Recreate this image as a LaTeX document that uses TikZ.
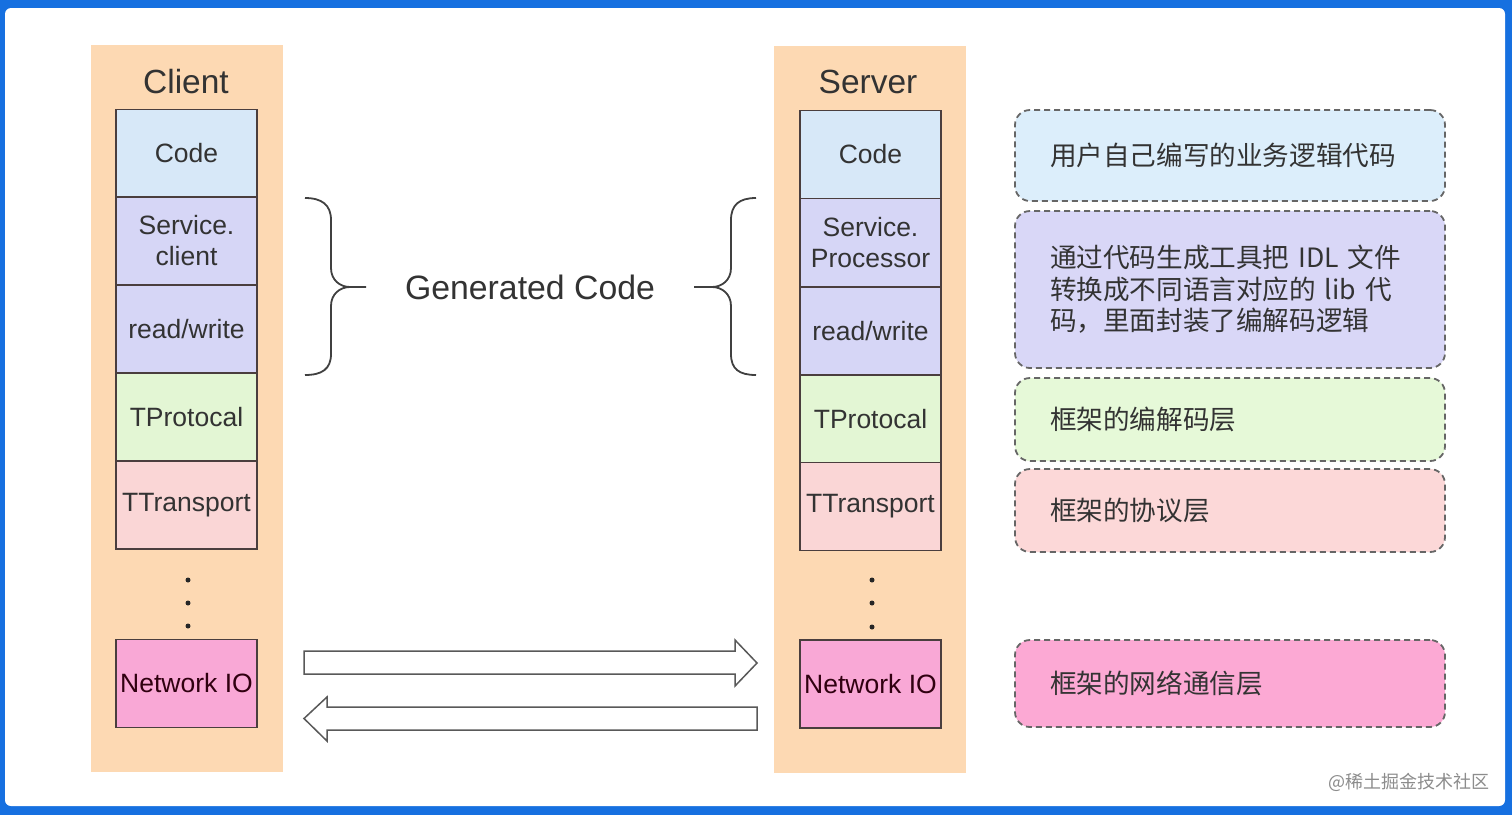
\documentclass[tikz,border=0pt]{standalone}
\usepackage{fontspec}
\setmainfont{Liberation Sans}
\newfontfamily\cjk{Noto Sans CJK SC}
\definecolor{frameblue}{HTML}{1670E0}
\definecolor{peach}{HTML}{FDD9B3}
\definecolor{codeblue}{HTML}{D7E8F8}
\definecolor{lav}{HTML}{D6D6F6}
\definecolor{lgreen}{HTML}{E3F6D4}
\definecolor{lpink}{HTML}{FAD6D6}
\definecolor{npink}{HTML}{F9A8D6}
\definecolor{boxline}{HTML}{4A3E3E}
\definecolor{txt}{HTML}{333333}
\definecolor{rblue}{HTML}{DCEEFB}
\definecolor{rlav}{HTML}{D9D7F7}
\definecolor{rgreen}{HTML}{E6F9D8}
\definecolor{rpink}{HTML}{FCD8D8}
\definecolor{rnpink}{HTML}{FCA9D4}
\tikzset{
  layerbox/.style={draw=boxline, line width=1.5pt, minimum width=141pt, minimum height=88pt, inner sep=0pt, align=center, text=txt, font=\fontsize{26.5}{31}\selectfont},
  colbg/.style={fill=peach, draw=none, minimum width=192pt, minimum height=727pt, inner sep=0pt},
  title/.style={text=txt, font=\fontsize{33.5}{38}\selectfont, inner sep=0pt},
  note/.style={draw=black!60, line width=1.8pt, dash pattern=on 6pt off 4pt, rounded corners=15pt, minimum width=430pt, text width=360pt, inner xsep=35pt, inner ysep=0pt, align=left, text=txt, font=\cjk\fontsize{26.6}{31.5}\selectfont},
  dotmark/.style={circle, fill=black!85, inner sep=0pt, minimum size=5pt},
  bigarrow/.style={draw=black!65, line width=1.5pt, fill=white, line join=miter},
  brace/.style={draw=black!75, line width=1.8pt},
}
\begin{document}
\begin{tikzpicture}[x=1pt,y=-1pt]
\useasboundingbox (0,0) rectangle (1512,815);
\fill[frameblue] (0,0) rectangle (1512,815);
\fill[white, rounded corners=6pt] (5,8) rectangle (1505,806);

% columns
\node[colbg] (clientcol) at (187,408.5) {};
\node[colbg] (servercol) at (870,409.5) {};
\node[title] (clienttitle) at (186,82) {Client};
\node[title] (servertitle) at (868,82) {Server};

% client layers
\node[layerbox, fill=codeblue] (ccode) at (186.5,153.5) {Code};
\node[layerbox, fill=lav] (csvc) at (186.5,241) {Service.\\client};
\node[layerbox, fill=lav] (crw) at (186.5,329) {read/write};
\node[layerbox, fill=lgreen] (cprot) at (186.5,417) {TProtocal};
\node[layerbox, fill=lpink] (ctrans) at (186.5,505) {TTransport};
\node[dotmark] (cd1) at (188,580) {};
\node[dotmark] (cd2) at (188,603) {};
\node[dotmark] (cd3) at (188,626) {};
\node[layerbox, fill=npink, text=black!75!purple] (cnio) at (186.5,683.5) {Network IO};

% server layers
\node[layerbox, fill=codeblue] (scode) at (870.5,154.5) {Code};
\node[layerbox, fill=lav] (ssvc) at (870.5,242.5) {Service.\\Processor};
\node[layerbox, fill=lav] (srw) at (870.5,331) {read/write};
\node[layerbox, fill=lgreen] (sprot) at (870.5,419) {TProtocal};
\node[layerbox, fill=lpink] (strans) at (870.5,506.5) {TTransport};
\node[dotmark] (sd1) at (872,580) {};
\node[dotmark] (sd2) at (872,603) {};
\node[dotmark] (sd3) at (872,627) {};
\node[layerbox, fill=npink, text=black!75!purple] (snio) at (870.5,684) {Network IO};

% braces
\draw[brace] (305,198) .. controls (322,198) and (331,205) .. (331,220) -- (331,268)
  .. controls (331,280) and (340,287) .. (350,287) -- (366,287);
\draw[brace] (350,287) .. controls (340,287) and (331,294) .. (331,306) -- (331,354)
  .. controls (331,369) and (322,375) .. (305,375);
\draw[brace] (756,198) .. controls (739,198) and (731,205) .. (731,220) -- (731,268)
  .. controls (731,280) and (722,287) .. (712,287) -- (694,287);
\draw[brace] (712,287) .. controls (722,287) and (731,294) .. (731,306) -- (731,354)
  .. controls (731,369) and (739,375) .. (756,375);
\node[text=txt, font=\fontsize{33.8}{38}\selectfont, inner sep=0pt] (gen) at (530,287) {Generated Code};

% arrows
\draw[bigarrow] (304,651) -- (735,651) -- (735,640) -- (757,663) -- (735,686) -- (735,674) -- (304,674) -- cycle;
\draw[bigarrow] (757,707) -- (327,707) -- (327,697) -- (304,718.5) -- (327,741) -- (327,730) -- (757,730) -- cycle;

% notes
\node[note, fill=rblue, minimum height=91pt] (n1) at (1230,155.5) {用户自己编写的业务逻辑代码};
\node[note, fill=rlav, minimum height=157pt] (n2) at (1230,289.5) {通过代码生成工具把 IDL 文件\\转换成不同语言对应的 lib 代\\码，里面封装了编解码逻辑};
\node[note, fill=rgreen, minimum height=83pt] (n3) at (1230,419.5) {框架的编解码层};
\node[note, fill=rpink, minimum height=83pt] (n4) at (1230,510.5) {框架的协议层};
\node[note, fill=rnpink, minimum height=87pt] (n5) at (1230,683.5) {框架的网络通信层};

% watermark
\node[anchor=east, text=black!45, font=\cjk\fontsize{18}{20}\selectfont, inner sep=0pt] (wm) at (1490,782) {@稀土掘金技术社区};
\end{tikzpicture}
\end{document}
